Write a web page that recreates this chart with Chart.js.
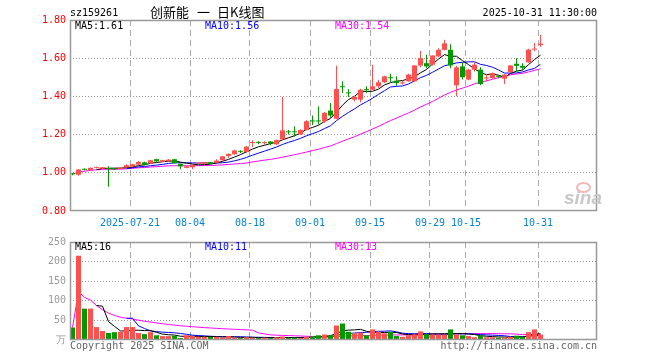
<!DOCTYPE html>
<html><head><meta charset="utf-8">
<script src="https://cdn.jsdelivr.net/npm/chart.js@4.4.1/dist/chart.umd.min.js"></script>
<style>
html,body{margin:0;padding:0;background:#fff;}
body{width:660px;height:360px;overflow:hidden;position:relative;font-family:"DejaVu Sans Mono",monospace;}
.t{position:absolute;font-size:10px;line-height:10px;white-space:pre;font-family:"DejaVu Sans Mono",monospace;}
.cn{position:absolute;font-size:13px;line-height:13px;white-space:pre;font-family:"Noto Sans CJK SC",sans-serif;color:#000;}
#c1{position:absolute;left:0;top:0;}
#c2{position:absolute;left:0;top:232px;}
</style></head><body>
<canvas id="c1" width="660" height="232"></canvas>
<canvas id="c2" width="660" height="128"></canvas>
<div class="t" style="left:70px;top:8px;color:#000">sz159261</div>
<div class="cn" style="left:150px;top:5px">创新能</div>
<div class="cn" style="left:197px;top:5px">一</div>
<div class="cn" style="left:217px;top:5px">日K线图</div>
<div class="t" style="right:63px;top:8px;color:#000">2025-10-31 11:30:00</div>
<div class="t" style="left:75px;top:21px;color:#000">MA5:1.61</div>
<div class="t" style="left:205px;top:21px;color:#0000ff">MA10:1.56</div>
<div class="t" style="left:335px;top:21px;color:#ff00ff">MA30:1.54</div>
<div class="t" style="left:75px;top:242px;color:#000">MA5:16</div>
<div class="t" style="left:205px;top:242px;color:#0000ff">MA10:11</div>
<div class="t" style="left:335px;top:242px;color:#ff00ff">MA30:13</div>
<div class="t" style="left:70px;top:341px;color:#666">Copyright 2025 SINA.COM</div>
<div class="t" style="right:63px;top:341px;color:#666">http://finance.sina.com.cn</div>
<div style="position:absolute;left:576px;top:182px;width:11px;height:7px;border:2px solid #f3b9b9;border-radius:50%;"></div>
<div style="position:absolute;left:564px;top:187px;font:italic bold 19px 'Liberation Sans',sans-serif;color:#c8c8c8;">sina</div>
<script>
const dates = ['07-07','07-08','07-09','07-10','07-11','07-14','07-15','07-16','07-17','07-18',
'07-21','07-22','07-23','07-24','07-25','07-28','07-29','07-30','07-31','08-01',
'08-04','08-05','08-06','08-07','08-08','08-11','08-12','08-13','08-14','08-15',
'08-18','08-19','08-20','08-21','08-22','08-25','08-26','08-27','08-28','08-29',
'09-01','09-02','09-03','09-04','09-05','09-08','09-09','09-10','09-11','09-12',
'09-15','09-16','09-17','09-18','09-19','09-22','09-23','09-24','09-25','09-26',
'09-29','09-30','10-09','10-10','10-13','10-14','10-15','10-16','10-17',
'10-20','10-21','10-22','10-23','10-24','10-27','10-28','10-29','10-30','10-31'];
const opens = [0.995,0.990,1.019,1.014,1.026,1.021,1.023,1.021,1.021,1.028,
1.033,1.043,1.055,1.049,1.071,1.057,1.060,1.071,1.047,1.026,
1.029,1.048,1.047,1.055,1.053,1.066,1.088,1.097,1.112,1.109,
1.156,1.160,1.155,1.164,1.149,1.175,1.215,1.215,1.201,1.224,
1.272,1.272,1.270,1.326,1.283,1.452,1.420,1.383,1.383,1.437,
1.435,1.453,1.474,1.498,1.482,1.468,1.479,1.479,1.562,1.574,
1.566,1.609,1.644,1.644,1.458,1.557,1.488,1.540,1.540,
1.494,1.496,1.507,1.493,1.527,1.571,1.560,1.578,1.645,1.668];
const highs = [0.998,1.020,1.022,1.028,1.032,1.031,1.034,1.023,1.029,1.045,
1.048,1.062,1.058,1.068,1.073,1.068,1.072,1.073,1.049,1.036,
1.043,1.053,1.057,1.057,1.071,1.088,1.101,1.121,1.118,1.140,
1.170,1.165,1.165,1.167,1.175,1.397,1.224,1.244,1.228,1.275,
1.300,1.349,1.318,1.366,1.560,1.479,1.439,1.404,1.440,1.453,
1.566,1.487,1.508,1.519,1.505,1.482,1.518,1.564,1.638,1.618,
1.616,1.652,1.696,1.673,1.560,1.579,1.545,1.579,1.552,
1.517,1.525,1.512,1.517,1.565,1.600,1.574,1.650,1.680,1.722];
const lows = [0.987,0.984,1.012,1.012,1.022,1.020,0.927,1.015,1.019,1.026,
1.031,1.040,1.038,1.047,1.058,1.055,1.058,1.048,1.019,1.024,
1.019,1.046,1.045,1.045,1.051,1.064,1.078,1.095,1.104,1.106,
1.137,1.150,1.148,1.144,1.146,1.172,1.200,1.189,1.198,1.222,
1.250,1.253,1.262,1.288,1.280,1.418,1.397,1.375,1.369,1.418,
1.433,1.444,1.470,1.474,1.456,1.462,1.477,1.476,1.552,1.548,
1.560,1.605,1.640,1.548,1.401,1.488,1.485,1.531,1.458,
1.479,1.492,1.495,1.465,1.524,1.527,1.540,1.576,1.636,1.660];
const closes = [0.992,1.017,1.016,1.026,1.028,1.029,1.020,1.019,1.027,1.040,
1.045,1.057,1.041,1.066,1.060,1.066,1.069,1.050,1.034,1.034,
1.041,1.050,1.055,1.047,1.064,1.086,1.099,1.117,1.110,1.137,
1.159,1.157,1.158,1.154,1.171,1.222,1.212,1.212,1.224,1.270,
1.269,1.269,1.314,1.300,1.439,1.448,1.416,1.397,1.435,1.433,
1.453,1.474,1.505,1.495,1.470,1.472,1.514,1.562,1.600,1.557,
1.614,1.644,1.678,1.562,1.552,1.500,1.540,1.566,1.465,
1.498,1.522,1.503,1.514,1.562,1.560,1.550,1.645,1.648,1.676];
const volumes = [32,215,80,80,33,23,18,20,21,33,
33,18,15,20,12,10,10,11,5,12,
10,8,8,8,8,6,10,6,5,7,
6,5,6,5,7,9,5,6,5,8,
9,12,14,12,37,42,21,17,19,12,
27,21,17,21,10,8,12,14,22,15,
14,14,14,27,14,12,10,7,12,
7,7,6,6,8,11,8,20,27,14];
const tickDates = ['07-21','08-04','08-18','09-01','09-15','09-29','10-15','10-31'];
const tickLabels = ['2025-07-21','08-04','08-18','09-01','09-15','09-29','10-15','10-31'];
const priceTicks = [0.8,1.0,1.2,1.4,1.6,1.8];
const volumeTicks = [0,50,100,150,200,250];

const UP = '#ff5050', DOWN = '#009a00';
const candleColors = dates.map((d,i)=> closes[i] >= opens[i] ? UP : DOWN);
const tickIdx = tickDates.map(d => dates.indexOf(d));

function movingAverage(arr, n, fromStart){
  return arr.map((v,i)=>{
    if(i < n-1 && !fromStart) return null;
    const s = arr.slice(Math.max(0,i-n+1), i+1);
    return s.reduce((a,b)=>a+b,0)/s.length;
  });
}
const pts = arr => arr.map((v,i)=>({x:i, y:v}));

const X_MIN = -5/12, X_MAX = 87 + 5/12, TICK_SHIFT = -5/12;

function xAxis(showLabels, height){
  return {
    type:'linear', min:X_MIN, max:X_MAX, bounds:'data', offset:false,
    afterBuildTicks: s => { s.ticks = tickIdx.map(i => ({value: i + TICK_SHIFT})); },
    afterFit: s => { s.height = height; },
    ticks:{ display:showLabels, autoSkip:false, maxRotation:0, padding:6, color:'#0a84d2',
      font:{family:'DejaVu Sans Mono', size:10}, callback:(v,k)=>tickLabels[k] },
    grid:{ color:'#aaaaaa', lineWidth:1, drawTicks:false, offset:false },
    border:{ display:false, dash:[6,4] }
  };
}
function yAxis(ticksArr, min, max, color, fmt){
  return {
    min, max, bounds:'data',
    afterBuildTicks: s => { s.ticks = ticksArr.map(v => ({value:v})); },
    afterFit: s => { s.width = 70; },
    ticks:{ autoSkip:false, padding:4, color, font:{family:'DejaVu Sans Mono', size:10}, callback: fmt },
    grid:{ drawTicks:false, lineWidth:1,
      color: c => (c.tick && (c.tick.value === min || c.tick.value === max)) ? 'rgba(0,0,0,0)' : '#999999' },
    border:{ display:false, dash:[1,2] }
  };
}
const boxPlugin = { id:'box', afterDraw(chart){
  const {ctx, chartArea:a} = chart;
  ctx.save(); ctx.strokeStyle = '#999'; ctx.lineWidth = 1.5;
  ctx.strokeRect(a.left+0.5, a.top+0.5, a.right-a.left-1, a.bottom-a.top-1);
  ctx.restore();
}};
const lineDs = (data, color) => ({type:'line', data:pts(data), borderColor:color, borderWidth:1,
  pointRadius:0, tension:0, fill:false, order:3, spanGaps:false});
const common = { responsive:false, devicePixelRatio:1, animation:false, events:[],
  plugins:{legend:{display:false}, tooltip:{enabled:false}} };

new Chart(document.getElementById('c1'), {
  type:'bar',
  data:{ datasets:[
    {type:'bar', data: lows.map((l,i)=>({x:i, y:[l, highs[i]]})), backgroundColor:candleColors,
      barThickness:1, grouped:false, inflateAmount:0, borderWidth:0, order:2},
    {type:'bar', data: opens.map((o,i)=>({x:i, y:[o, closes[i]]})), backgroundColor:candleColors,
      barThickness:5, grouped:false, inflateAmount:0, borderWidth:0, minBarLength:1, order:1},
    lineDs(movingAverage(closes,5,false), '#000000'),
    lineDs(movingAverage(closes,10,false), '#0000ff'),
    lineDs(movingAverage(closes,30,true), '#ff00ff')
  ]},
  options:{ ...common,
    layout:{padding:{top:20, right:63, left:0, bottom:0}},
    scales:{ x: xAxis(true, 21), y: yAxis(priceTicks, 0.8, 1.8, '#ff0000', v => v.toFixed(2)) }
  },
  plugins:[boxPlugin]
});

new Chart(document.getElementById('c2'), {
  type:'bar',
  data:{ datasets:[
    {type:'bar', data: pts(volumes), backgroundColor:candleColors,
      barThickness:5, grouped:false, inflateAmount:0, borderWidth:0, order:1},
    lineDs(movingAverage(volumes,5,false), '#000000'),
    lineDs(movingAverage(volumes,10,false), '#0000ff'),
    lineDs(movingAverage(volumes,30,true), '#ff00ff')
  ]},
  options:{ ...common,
    layout:{padding:{top:8, right:63, left:0, bottom:0}},
    scales:{ x: xAxis(false, 20), y: yAxis(volumeTicks, 0, 250, '#999999', v => v === 0 ? '万' : String(v)) }
  },
  plugins:[boxPlugin]
});
</script>
</body></html>
